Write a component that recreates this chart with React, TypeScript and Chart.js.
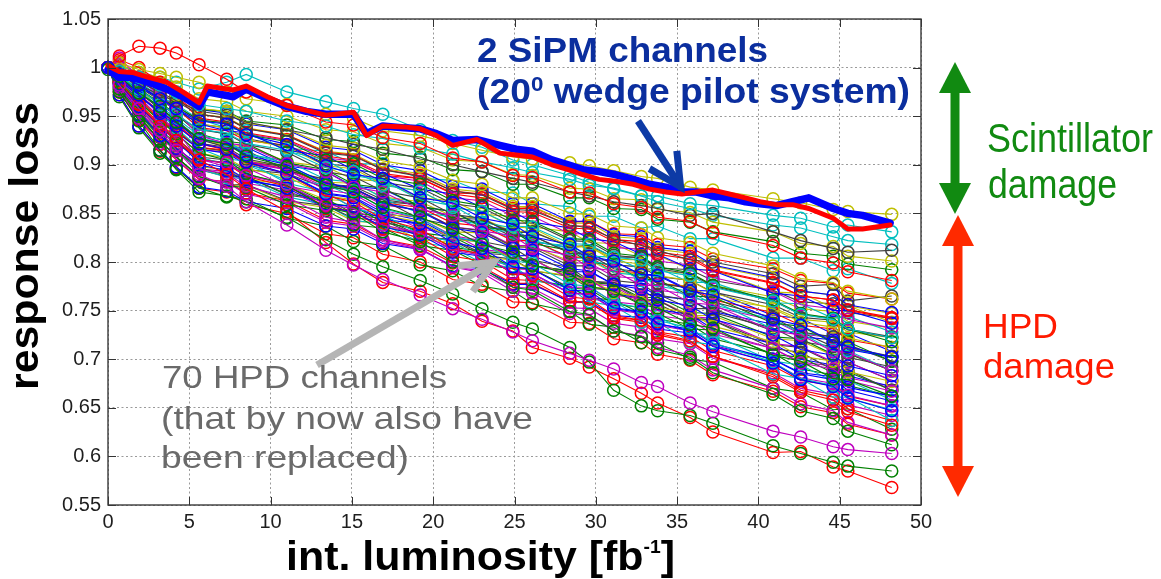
import React, { useEffect, useRef } from 'react';
import { Chart, registerables } from 'chart.js';

Chart.register(...registerables);

// Integrated luminosity [fb^-1] at which the HPD channels were measured
const LUMI = [0, 0.7, 1.9, 3.2, 4.2, 5.6, 7.3, 8.5, 11.0, 13.4, 15.1, 16.9, 19.2, 21.2, 23.0, 24.9, 26.1, 28.4, 29.6, 31.1, 32.8, 33.8, 35.8, 37.2, 40.9, 42.6, 44.6, 45.5, 48.2];

// Relative response of the 70 HPD channels
const HPD_01 = [1.0, 0.993, 0.982, 0.968, 0.958, 0.945, 0.942, 0.931, 0.921, 0.899, 0.890, 0.886, 0.866, 0.861, 0.845, 0.839, 0.826, 0.818, 0.806, 0.801, 0.787, 0.786, 0.770, 0.766, 0.741, 0.735, 0.718, 0.713, 0.702];
const HPD_02 = [0.998, 0.991, 0.974, 0.960, 0.944, 0.927, 0.921, 0.909, 0.898, 0.879, 0.872, 0.856, 0.846, 0.833, 0.818, 0.810, 0.797, 0.788, 0.775, 0.770, 0.756, 0.753, 0.736, 0.732, 0.704, 0.698, 0.680, 0.679, 0.662];
const HPD_03 = [1.0, 1.012, 1.022, 1.02, 1.015, 1.003, 0.988, 0.975, 0.961, 0.944, 0.941, 0.928, 0.922, 0.907, 0.903, 0.889, 0.887, 0.872, 0.871, 0.860, 0.856, 0.846, 0.842, 0.830, 0.817, 0.804, 0.799, 0.790, 0.781];
const HPD_04 = [1.0, 0.996, 0.99, 0.982, 0.975, 0.962, 0.958, 0.955, 0.945, 0.940, 0.931, 0.927, 0.917, 0.911, 0.903, 0.897, 0.892, 0.885, 0.879, 0.876, 0.868, 0.868, 0.860, 0.858, 0.848, 0.845, 0.836, 0.838, 0.831];
const HPD_05 = [1.0, 0.982, 0.958, 0.935, 0.915, 0.89, 0.878, 0.862, 0.838, 0.812, 0.797, 0.782, 0.766, 0.752, 0.741, 0.728, 0.719, 0.706, 0.699, 0.690, 0.676, 0.672, 0.655, 0.646, 0.626, 0.620, 0.610, 0.607, 0.603];
const HPD_06 = [1.0, 1.005, 0.998, 0.994, 0.99, 0.985, 0.975, 0.968, 0.962, 0.952, 0.948, 0.935, 0.930, 0.922, 0.915, 0.908, 0.906, 0.902, 0.899, 0.894, 0.888, 0.886, 0.877, 0.874, 0.865, 0.861, 0.854, 0.852, 0.849];
const HPD_07 = [1.0, 0.994, 0.985, 0.975, 0.966, 0.955, 0.951, 0.944, 0.936, 0.928, 0.921, 0.916, 0.906, 0.900, 0.893, 0.886, 0.882, 0.872, 0.868, 0.862, 0.858, 0.855, 0.848, 0.850, 0.831, 0.822, 0.814, 0.810, 0.812];
const HPD_08 = [1.0, 0.99, 0.972, 0.953, 0.94, 0.922, 0.916, 0.903, 0.891, 0.870, 0.866, 0.848, 0.839, 0.820, 0.814, 0.795, 0.793, 0.771, 0.770, 0.753, 0.749, 0.737, 0.729, 0.713, 0.696, 0.679, 0.672, 0.660, 0.647];
const HPD_09 = [1.0, 0.975, 0.945, 0.915, 0.895, 0.872, 0.868, 0.862, 0.846, 0.823, 0.808, 0.795, 0.781, 0.767, 0.752, 0.738, 0.731, 0.712, 0.697, 0.668, 0.652, 0.647, 0.642, 0.634, 0.611, 0.603, 0.594, 0.590, 0.585];
const HPD_10 = [1.0, 0.985, 0.962, 0.94, 0.925, 0.905, 0.89, 0.875, 0.852, 0.82, 0.798, 0.779, 0.77, 0.757, 0.739, 0.729, 0.712, 0.701, 0.692, 0.68, 0.665, 0.655, 0.64, 0.625, 0.604, 0.605, 0.589, 0.585, 0.568];
const HPD_11 = [1.0, 0.992, 0.978, 0.962, 0.952, 0.936, 0.933, 0.922, 0.915, 0.897, 0.893, 0.879, 0.873, 0.856, 0.852, 0.837, 0.836, 0.819, 0.818, 0.805, 0.802, 0.791, 0.786, 0.774, 0.760, 0.746, 0.741, 0.731, 0.722];
const HPD_12 = [1.0, 1.01, 0.99, 0.97, 0.955, 0.93, 0.922, 0.920, 0.901, 0.893, 0.877, 0.872, 0.854, 0.848, 0.832, 0.827, 0.814, 0.807, 0.794, 0.791, 0.776, 0.776, 0.758, 0.756, 0.729, 0.725, 0.708, 0.707, 0.688];
const HPD_13 = [1.0, 0.998, 0.99, 0.98, 0.972, 0.958, 0.955, 0.943, 0.937, 0.920, 0.917, 0.904, 0.898, 0.884, 0.880, 0.866, 0.866, 0.850, 0.849, 0.837, 0.835, 0.825, 0.820, 0.809, 0.796, 0.783, 0.779, 0.770, 0.762];
const HPD_14 = [1.0, 0.995, 0.982, 0.972, 0.965, 0.952, 0.948, 0.937, 0.93, 0.912, 0.909, 0.895, 0.888, 0.873, 0.869, 0.854, 0.853, 0.838, 0.835, 0.824, 0.817, 0.812, 0.802, 0.80, 0.788, 0.775, 0.777, 0.76, 0.765];
const HPD_15 = [1.0, 0.988, 0.97, 0.955, 0.943, 0.926, 0.922, 0.910, 0.900, 0.881, 0.876, 0.861, 0.852, 0.835, 0.830, 0.814, 0.812, 0.793, 0.791, 0.777, 0.772, 0.761, 0.755, 0.741, 0.725, 0.710, 0.704, 0.693, 0.683];
const HPD_16 = [1.0, 0.993, 0.982, 0.968, 0.96, 0.946, 0.943, 0.931, 0.924, 0.905, 0.901, 0.886, 0.880, 0.863, 0.858, 0.843, 0.842, 0.824, 0.823, 0.809, 0.806, 0.795, 0.789, 0.776, 0.761, 0.747, 0.742, 0.731, 0.718];
const HPD_17 = [1.0, 1.008, 1.0, 0.985, 0.97, 0.948, 0.944, 0.933, 0.926, 0.909, 0.905, 0.891, 0.886, 0.870, 0.866, 0.852, 0.851, 0.835, 0.834, 0.821, 0.818, 0.808, 0.803, 0.791, 0.778, 0.765, 0.761, 0.750, 0.742];
const HPD_18 = [1.0, 0.992, 0.975, 0.96, 0.948, 0.93, 0.925, 0.912, 0.901, 0.879, 0.873, 0.855, 0.845, 0.826, 0.820, 0.801, 0.799, 0.777, 0.775, 0.758, 0.753, 0.740, 0.732, 0.717, 0.697, 0.680, 0.673, 0.660, 0.648];
const HPD_19 = [1.0, 1.005, 0.975, 0.95, 0.935, 0.905, 0.902, 0.889, 0.880, 0.859, 0.855, 0.838, 0.830, 0.812, 0.807, 0.789, 0.788, 0.768, 0.767, 0.751, 0.747, 0.735, 0.729, 0.714, 0.696, 0.681, 0.675, 0.663, 0.652];
const HPD_20 = [1.0, 1.003, 0.995, 0.99, 0.98, 0.968, 0.965, 0.955, 0.950, 0.936, 0.934, 0.922, 0.918, 0.905, 0.903, 0.890, 0.889, 0.876, 0.875, 0.865, 0.864, 0.854, 0.851, 0.841, 0.831, 0.819, 0.816, 0.806, 0.801];
const HPD_21 = [1.0, 0.99, 0.978, 0.962, 0.951, 0.936, 0.932, 0.921, 0.913, 0.893, 0.888, 0.873, 0.866, 0.849, 0.845, 0.828, 0.827, 0.809, 0.808, 0.793, 0.790, 0.778, 0.773, 0.759, 0.743, 0.728, 0.723, 0.712, 0.703];
const HPD_22 = [1.0, 0.995, 0.98, 0.968, 0.958, 0.942, 0.935, 0.933, 0.915, 0.909, 0.895, 0.891, 0.875, 0.870, 0.856, 0.852, 0.841, 0.835, 0.824, 0.821, 0.808, 0.808, 0.793, 0.791, 0.768, 0.765, 0.750, 0.750, 0.737];
const HPD_23 = [1.0, 0.985, 0.965, 0.945, 0.932, 0.912, 0.905, 0.891, 0.879, 0.856, 0.850, 0.831, 0.821, 0.800, 0.794, 0.774, 0.771, 0.749, 0.746, 0.729, 0.723, 0.710, 0.702, 0.686, 0.664, 0.647, 0.639, 0.626, 0.612];
const HPD_24 = [1.0, 0.99, 0.972, 0.955, 0.942, 0.922, 0.915, 0.902, 0.891, 0.868, 0.862, 0.844, 0.834, 0.814, 0.808, 0.788, 0.786, 0.764, 0.762, 0.745, 0.740, 0.727, 0.719, 0.703, 0.682, 0.666, 0.658, 0.646, 0.632];
const HPD_25 = [1.0, 0.996, 0.985, 0.97, 0.962, 0.947, 0.938, 0.935, 0.914, 0.905, 0.889, 0.884, 0.864, 0.858, 0.841, 0.835, 0.822, 0.814, 0.801, 0.797, 0.781, 0.781, 0.763, 0.760, 0.731, 0.727, 0.709, 0.709, 0.688];
const HPD_26 = [1.0, 0.988, 0.97, 0.955, 0.943, 0.921, 0.917, 0.904, 0.895, 0.874, 0.870, 0.853, 0.845, 0.827, 0.822, 0.804, 0.803, 0.783, 0.782, 0.766, 0.762, 0.750, 0.744, 0.729, 0.711, 0.696, 0.690, 0.678, 0.667];
const HPD_27 = [1.0, 1.0, 0.99, 0.975, 0.962, 0.942, 0.938, 0.926, 0.918, 0.899, 0.896, 0.880, 0.873, 0.856, 0.852, 0.836, 0.835, 0.816, 0.816, 0.801, 0.798, 0.786, 0.781, 0.768, 0.752, 0.738, 0.733, 0.722, 0.712];
const HPD_28 = [1.0, 0.99, 0.974, 0.958, 0.946, 0.922, 0.918, 0.906, 0.898, 0.879, 0.876, 0.860, 0.853, 0.836, 0.832, 0.816, 0.815, 0.796, 0.796, 0.781, 0.778, 0.766, 0.761, 0.748, 0.732, 0.718, 0.713, 0.702, 0.692];
const HPD_29 = [1.0, 0.984, 0.96, 0.94, 0.925, 0.902, 0.897, 0.885, 0.876, 0.856, 0.852, 0.836, 0.828, 0.810, 0.806, 0.789, 0.788, 0.768, 0.767, 0.752, 0.748, 0.736, 0.731, 0.716, 0.700, 0.685, 0.679, 0.668, 0.657];
const HPD_30 = [1.0, 0.997, 0.99, 0.98, 0.972, 0.957, 0.955, 0.945, 0.941, 0.926, 0.924, 0.912, 0.908, 0.895, 0.893, 0.880, 0.880, 0.866, 0.866, 0.855, 0.854, 0.844, 0.841, 0.831, 0.821, 0.809, 0.806, 0.798, 0.792];
const HPD_31 = [1.0, 0.996, 0.988, 0.978, 0.97, 0.952, 0.948, 0.937, 0.931, 0.913, 0.910, 0.895, 0.889, 0.873, 0.870, 0.855, 0.855, 0.837, 0.837, 0.823, 0.821, 0.810, 0.806, 0.792, 0.779, 0.765, 0.761, 0.751, 0.743];
const HPD_32 = [1.0, 0.99, 0.972, 0.952, 0.938, 0.917, 0.906, 0.904, 0.881, 0.872, 0.855, 0.849, 0.828, 0.821, 0.803, 0.796, 0.782, 0.773, 0.759, 0.755, 0.738, 0.738, 0.718, 0.715, 0.685, 0.680, 0.661, 0.661, 0.637];
const HPD_33 = [1.0, 0.995, 0.983, 0.97, 0.96, 0.946, 0.943, 0.932, 0.925, 0.907, 0.904, 0.889, 0.883, 0.866, 0.863, 0.847, 0.847, 0.829, 0.829, 0.815, 0.813, 0.801, 0.797, 0.784, 0.770, 0.756, 0.752, 0.741, 0.732];
const HPD_34 = [1.0, 0.986, 0.965, 0.945, 0.932, 0.912, 0.907, 0.896, 0.888, 0.868, 0.864, 0.848, 0.841, 0.824, 0.820, 0.803, 0.803, 0.784, 0.783, 0.768, 0.765, 0.753, 0.748, 0.734, 0.718, 0.703, 0.698, 0.687, 0.677];
const HPD_35 = [1.0, 0.992, 0.975, 0.958, 0.946, 0.926, 0.918, 0.915, 0.894, 0.885, 0.869, 0.864, 0.844, 0.838, 0.821, 0.815, 0.802, 0.794, 0.781, 0.777, 0.761, 0.761, 0.743, 0.740, 0.711, 0.707, 0.689, 0.689, 0.668];
const HPD_36 = [1.0, 0.998, 0.99, 0.98, 0.972, 0.957, 0.953, 0.942, 0.936, 0.918, 0.915, 0.900, 0.894, 0.878, 0.875, 0.860, 0.860, 0.842, 0.842, 0.828, 0.826, 0.815, 0.811, 0.797, 0.784, 0.770, 0.766, 0.756, 0.748];
const HPD_37 = [1.0, 0.99, 0.978, 0.964, 0.952, 0.932, 0.924, 0.922, 0.902, 0.895, 0.880, 0.876, 0.857, 0.852, 0.836, 0.832, 0.819, 0.812, 0.800, 0.797, 0.782, 0.782, 0.765, 0.764, 0.737, 0.734, 0.717, 0.718, 0.698];
const HPD_38 = [1.0, 0.985, 0.963, 0.942, 0.928, 0.906, 0.901, 0.888, 0.878, 0.857, 0.852, 0.834, 0.825, 0.806, 0.801, 0.782, 0.781, 0.760, 0.758, 0.742, 0.738, 0.725, 0.718, 0.703, 0.684, 0.668, 0.661, 0.649, 0.637];
const HPD_39 = [1.0, 1.002, 0.995, 0.99, 0.985, 0.978, 0.985, 0.993, 0.975, 0.965, 0.958, 0.952, 0.936, 0.925, 0.918, 0.905, 0.900, 0.889, 0.882, 0.875, 0.868, 0.862, 0.855, 0.848, 0.838, 0.835, 0.826, 0.822, 0.818];
const HPD_40 = [1.0, 0.98, 0.955, 0.935, 0.92, 0.895, 0.891, 0.878, 0.867, 0.846, 0.841, 0.823, 0.814, 0.795, 0.789, 0.770, 0.768, 0.747, 0.745, 0.729, 0.724, 0.712, 0.704, 0.689, 0.670, 0.654, 0.647, 0.635, 0.622];
const HPD_41 = [1.0, 1.003, 0.995, 0.985, 0.975, 0.952, 0.949, 0.938, 0.931, 0.914, 0.911, 0.896, 0.891, 0.875, 0.872, 0.857, 0.857, 0.840, 0.840, 0.826, 0.824, 0.813, 0.809, 0.796, 0.783, 0.770, 0.766, 0.755, 0.747];
const HPD_42 = [1.0, 0.994, 0.98, 0.966, 0.957, 0.942, 0.938, 0.927, 0.919, 0.901, 0.898, 0.882, 0.876, 0.860, 0.856, 0.840, 0.840, 0.822, 0.821, 0.807, 0.804, 0.793, 0.788, 0.775, 0.760, 0.746, 0.742, 0.731, 0.723];
const HPD_43 = [1.0, 0.982, 0.955, 0.93, 0.917, 0.90, 0.894, 0.883, 0.878, 0.860, 0.857, 0.844, 0.839, 0.824, 0.821, 0.806, 0.807, 0.790, 0.790, 0.777, 0.775, 0.765, 0.761, 0.749, 0.736, 0.723, 0.720, 0.710, 0.702];
const HPD_44 = [1.0, 0.978, 0.95, 0.925, 0.908, 0.888, 0.878, 0.877, 0.859, 0.853, 0.838, 0.835, 0.817, 0.812, 0.797, 0.793, 0.781, 0.775, 0.763, 0.761, 0.747, 0.747, 0.731, 0.730, 0.705, 0.702, 0.686, 0.687, 0.668];
const HPD_45 = [1.0, 0.99, 0.968, 0.946, 0.935, 0.918, 0.915, 0.903, 0.896, 0.879, 0.876, 0.861, 0.856, 0.840, 0.837, 0.822, 0.822, 0.805, 0.805, 0.791, 0.789, 0.778, 0.774, 0.761, 0.748, 0.735, 0.731, 0.720, 0.712];
const HPD_46 = [1.0, 0.985, 0.962, 0.94, 0.926, 0.908, 0.900, 0.900, 0.884, 0.880, 0.867, 0.865, 0.850, 0.847, 0.834, 0.831, 0.820, 0.817, 0.806, 0.805, 0.792, 0.794, 0.779, 0.779, 0.758, 0.757, 0.742, 0.744, 0.728];
const HPD_47 = [1.0, 0.976, 0.948, 0.922, 0.906, 0.886, 0.882, 0.870, 0.861, 0.841, 0.837, 0.821, 0.813, 0.795, 0.791, 0.774, 0.773, 0.753, 0.752, 0.737, 0.733, 0.721, 0.716, 0.701, 0.686, 0.670, 0.664, 0.653, 0.642];
const HPD_48 = [1.0, 0.995, 0.978, 0.958, 0.945, 0.927, 0.919, 0.920, 0.903, 0.898, 0.885, 0.883, 0.866, 0.863, 0.849, 0.847, 0.836, 0.831, 0.820, 0.819, 0.806, 0.807, 0.792, 0.792, 0.769, 0.768, 0.753, 0.755, 0.738];
const HPD_49 = [1.0, 0.986, 0.965, 0.945, 0.934, 0.918, 0.914, 0.903, 0.898, 0.880, 0.878, 0.864, 0.859, 0.844, 0.841, 0.826, 0.827, 0.810, 0.810, 0.797, 0.795, 0.785, 0.781, 0.769, 0.756, 0.743, 0.740, 0.730, 0.722];
const HPD_50 = [1.0, 0.972, 0.94, 0.915, 0.898, 0.877, 0.873, 0.862, 0.855, 0.837, 0.834, 0.819, 0.813, 0.796, 0.793, 0.777, 0.777, 0.759, 0.759, 0.745, 0.743, 0.731, 0.727, 0.714, 0.700, 0.686, 0.682, 0.671, 0.662];
const HPD_51 = [1.0, 0.98, 0.952, 0.93, 0.915, 0.897, 0.889, 0.888, 0.870, 0.865, 0.850, 0.847, 0.830, 0.826, 0.811, 0.808, 0.796, 0.791, 0.779, 0.777, 0.763, 0.764, 0.748, 0.747, 0.723, 0.721, 0.705, 0.706, 0.688];
const HPD_52 = [1.0, 0.975, 0.946, 0.921, 0.905, 0.885, 0.883, 0.871, 0.863, 0.843, 0.839, 0.823, 0.816, 0.799, 0.795, 0.778, 0.778, 0.759, 0.758, 0.743, 0.740, 0.728, 0.723, 0.709, 0.693, 0.678, 0.673, 0.662, 0.652];
const HPD_53 = [1.0, 0.99, 0.972, 0.955, 0.945, 0.927, 0.923, 0.911, 0.904, 0.885, 0.882, 0.866, 0.860, 0.843, 0.839, 0.823, 0.822, 0.804, 0.804, 0.789, 0.786, 0.775, 0.770, 0.756, 0.741, 0.727, 0.723, 0.711, 0.702];
const HPD_54 = [1.0, 0.985, 0.96, 0.938, 0.925, 0.906, 0.898, 0.897, 0.878, 0.871, 0.856, 0.852, 0.834, 0.829, 0.813, 0.809, 0.796, 0.790, 0.778, 0.775, 0.760, 0.761, 0.744, 0.742, 0.716, 0.713, 0.697, 0.697, 0.678];
const HPD_55 = [1.0, 0.98, 0.955, 0.932, 0.918, 0.898, 0.895, 0.885, 0.880, 0.864, 0.863, 0.849, 0.846, 0.831, 0.830, 0.815, 0.816, 0.801, 0.802, 0.789, 0.788, 0.778, 0.775, 0.763, 0.753, 0.741, 0.738, 0.728, 0.722];
const HPD_56 = [1.0, 0.976, 0.948, 0.925, 0.908, 0.888, 0.879, 0.880, 0.863, 0.858, 0.845, 0.843, 0.826, 0.823, 0.809, 0.807, 0.796, 0.791, 0.780, 0.779, 0.766, 0.767, 0.752, 0.752, 0.729, 0.728, 0.713, 0.715, 0.698];
const HPD_57 = [1.0, 0.988, 0.966, 0.945, 0.934, 0.916, 0.912, 0.900, 0.891, 0.871, 0.867, 0.851, 0.843, 0.825, 0.821, 0.804, 0.803, 0.783, 0.782, 0.767, 0.763, 0.751, 0.746, 0.731, 0.716, 0.700, 0.694, 0.683, 0.672];
const HPD_58 = [1.0, 0.97, 0.938, 0.912, 0.896, 0.876, 0.867, 0.865, 0.845, 0.837, 0.821, 0.817, 0.797, 0.791, 0.775, 0.770, 0.757, 0.749, 0.736, 0.733, 0.717, 0.717, 0.700, 0.697, 0.670, 0.666, 0.648, 0.649, 0.628];
const HPD_59 = [1.0, 1.006, 0.99, 0.972, 0.958, 0.938, 0.935, 0.925, 0.920, 0.904, 0.903, 0.889, 0.886, 0.871, 0.870, 0.855, 0.856, 0.841, 0.842, 0.829, 0.828, 0.818, 0.815, 0.803, 0.793, 0.781, 0.778, 0.768, 0.762];
const HPD_60 = [1.0, 0.98, 0.952, 0.93, 0.915, 0.896, 0.887, 0.886, 0.867, 0.859, 0.843, 0.839, 0.820, 0.815, 0.799, 0.794, 0.782, 0.775, 0.762, 0.759, 0.744, 0.744, 0.727, 0.725, 0.698, 0.694, 0.677, 0.678, 0.658];
const HPD_61 = [1.0, 0.995, 0.97, 0.948, 0.935, 0.916, 0.913, 0.902, 0.895, 0.877, 0.874, 0.859, 0.853, 0.836, 0.833, 0.817, 0.817, 0.799, 0.799, 0.785, 0.783, 0.771, 0.767, 0.754, 0.740, 0.726, 0.722, 0.711, 0.702];
const HPD_62 = [1.0, 0.978, 0.95, 0.925, 0.908, 0.888, 0.879, 0.879, 0.862, 0.856, 0.842, 0.840, 0.823, 0.820, 0.805, 0.802, 0.791, 0.786, 0.774, 0.773, 0.759, 0.761, 0.745, 0.745, 0.721, 0.719, 0.704, 0.706, 0.688];
const HPD_63 = [1.0, 0.984, 0.96, 0.94, 0.927, 0.908, 0.905, 0.895, 0.891, 0.876, 0.875, 0.862, 0.859, 0.845, 0.844, 0.830, 0.831, 0.816, 0.817, 0.805, 0.805, 0.794, 0.792, 0.781, 0.771, 0.759, 0.757, 0.748, 0.742];
const HPD_64 = [1.0, 0.992, 0.975, 0.957, 0.946, 0.927, 0.918, 0.918, 0.899, 0.893, 0.878, 0.875, 0.857, 0.852, 0.837, 0.833, 0.821, 0.815, 0.803, 0.801, 0.787, 0.787, 0.771, 0.770, 0.745, 0.742, 0.726, 0.727, 0.708];
const HPD_65 = [1.0, 0.984, 0.958, 0.936, 0.922, 0.906, 0.902, 0.890, 0.881, 0.861, 0.857, 0.841, 0.833, 0.815, 0.811, 0.794, 0.793, 0.773, 0.772, 0.757, 0.753, 0.741, 0.736, 0.721, 0.706, 0.690, 0.684, 0.673, 0.662];
const HPD_66 = [1.0, 0.972, 0.94, 0.914, 0.897, 0.876, 0.872, 0.859, 0.850, 0.829, 0.825, 0.808, 0.800, 0.782, 0.777, 0.759, 0.758, 0.738, 0.737, 0.721, 0.717, 0.705, 0.699, 0.684, 0.667, 0.651, 0.645, 0.633, 0.622];
const HPD_67 = [1.0, 0.997, 0.985, 0.97, 0.958, 0.938, 0.931, 0.932, 0.917, 0.914, 0.901, 0.901, 0.886, 0.884, 0.872, 0.871, 0.860, 0.857, 0.847, 0.847, 0.835, 0.837, 0.824, 0.824, 0.804, 0.804, 0.791, 0.793, 0.778];
const HPD_68 = [1.0, 0.982, 0.955, 0.93, 0.916, 0.896, 0.893, 0.881, 0.874, 0.855, 0.852, 0.836, 0.830, 0.813, 0.809, 0.793, 0.792, 0.774, 0.774, 0.759, 0.756, 0.745, 0.740, 0.726, 0.711, 0.697, 0.693, 0.681, 0.672];
const HPD_69 = [1.0, 0.99, 0.968, 0.948, 0.936, 0.917, 0.914, 0.904, 0.899, 0.882, 0.881, 0.867, 0.862, 0.847, 0.845, 0.831, 0.832, 0.815, 0.816, 0.803, 0.802, 0.791, 0.788, 0.776, 0.764, 0.752, 0.749, 0.739, 0.732];
const HPD_70 = [1.0, 0.978, 0.952, 0.928, 0.914, 0.895, 0.888, 0.888, 0.869, 0.863, 0.848, 0.845, 0.827, 0.822, 0.807, 0.803, 0.791, 0.785, 0.773, 0.771, 0.757, 0.757, 0.741, 0.740, 0.715, 0.712, 0.696, 0.697, 0.678];

const HPD_SERIES = [
  HPD_01, HPD_02, HPD_03, HPD_04, HPD_05, HPD_06, HPD_07, HPD_08, HPD_09, HPD_10,
  HPD_11, HPD_12, HPD_13, HPD_14, HPD_15, HPD_16, HPD_17, HPD_18, HPD_19, HPD_20,
  HPD_21, HPD_22, HPD_23, HPD_24, HPD_25, HPD_26, HPD_27, HPD_28, HPD_29, HPD_30,
  HPD_31, HPD_32, HPD_33, HPD_34, HPD_35, HPD_36, HPD_37, HPD_38, HPD_39, HPD_40,
  HPD_41, HPD_42, HPD_43, HPD_44, HPD_45, HPD_46, HPD_47, HPD_48, HPD_49, HPD_50,
  HPD_51, HPD_52, HPD_53, HPD_54, HPD_55, HPD_56, HPD_57, HPD_58, HPD_59, HPD_60,
  HPD_61, HPD_62, HPD_63, HPD_64, HPD_65, HPD_66, HPD_67, HPD_68, HPD_69, HPD_70,
];

// The two SiPM channels of the 20 degree wedge pilot system
const SIPM_LUMI = [0, 0.7, 1.5, 2.5, 3.6, 4.6, 5.6, 6.1, 7.7, 8.5, 9.8, 11.0, 12.2, 13.4, 15.1, 15.9, 16.9, 18.2, 19.2, 20.2, 21.2, 22.7, 24.1, 25.1, 26.1, 27.3, 28.3, 29.2, 30.2, 31.2, 32.3, 33.3, 34.3, 35.3, 36.2, 37.2, 38.2, 39.2, 40.1, 41.1, 42.1, 43.1, 44.6, 45.5, 46.4, 48.1];
const SIPM_RED = [1.002, 0.996, 0.995, 0.99, 0.985, 0.975, 0.964, 0.981, 0.977, 0.981, 0.97, 0.961, 0.956, 0.951, 0.954, 0.93, 0.94, 0.939, 0.937, 0.93, 0.92, 0.926, 0.912, 0.91, 0.908, 0.90, 0.895, 0.89, 0.885, 0.883, 0.88, 0.875, 0.872, 0.87, 0.872, 0.874, 0.87, 0.866, 0.862, 0.859, 0.859, 0.855, 0.845, 0.834, 0.834, 0.838];
const SIPM_BLUE = [0.998, 0.99, 0.99, 0.985, 0.978, 0.97, 0.96, 0.975, 0.97, 0.978, 0.968, 0.96, 0.955, 0.952, 0.952, 0.932, 0.94, 0.938, 0.937, 0.932, 0.925, 0.926, 0.92, 0.916, 0.914, 0.905, 0.90, 0.895, 0.893, 0.89, 0.885, 0.88, 0.877, 0.872, 0.872, 0.868, 0.866, 0.862, 0.86, 0.858, 0.862, 0.866, 0.855, 0.85, 0.848, 0.84];

const X_TICKS = [0, 5, 10, 15, 20, 25, 30, 35, 40, 45, 50];
const Y_TICKS = [0.55, 0.6, 0.65, 0.7, 0.75, 0.8, 0.85, 0.9, 0.95, 1, 1.05];

// Classic line colour order: b, g, r, c, m, y, k
const LINE_COLORS = ['#0000ff', '#008000', '#ff0000', '#00bfbf', '#bf00bf', '#bfbf00', '#404040'];

const FONT = '"Liberation Sans", Arial, Helvetica, sans-serif';

type Run = { text: string; size: number; rise?: number };

// Draws text runs starting at (x, baseline), stretched horizontally to a given width.
function drawRuns(
  ctx: CanvasRenderingContext2D,
  runs: Run[],
  x: number,
  y: number,
  weight: string,
  color: string,
  width?: number,
  rotate = false,
) {
  let natural = 0;
  for (const r of runs) {
    ctx.font = `${weight} ${r.size}px ${FONT}`;
    natural += ctx.measureText(r.text).width;
  }
  const sx = width ? width / natural : 1;
  ctx.save();
  ctx.translate(x, y);
  if (rotate) ctx.rotate(-Math.PI / 2);
  ctx.scale(sx, 1);
  ctx.fillStyle = color;
  ctx.textBaseline = 'alphabetic';
  ctx.textAlign = 'left';
  let cx = 0;
  for (const r of runs) {
    ctx.font = `${weight} ${r.size}px ${FONT}`;
    ctx.fillText(r.text, cx, -(r.rise || 0));
    cx += ctx.measureText(r.text).width;
  }
  ctx.restore();
}

function vArrow(
  ctx: CanvasRenderingContext2D,
  x0: number, y0: number, x1: number, y1: number,
  color: string, width: number, headLen: number, headAngle: number,
) {
  const a = Math.atan2(y1 - y0, x1 - x0);
  const back = a + Math.PI;
  ctx.save();
  ctx.strokeStyle = color;
  ctx.lineWidth = width;
  ctx.lineCap = 'butt';
  ctx.beginPath();
  ctx.moveTo(x0, y0);
  ctx.lineTo(x1 - Math.cos(a) * width * 0.6, y1 - Math.sin(a) * width * 0.6);
  ctx.stroke();
  ctx.lineJoin = 'miter';
  ctx.miterLimit = 3;
  const inset = width * 0.9;
  const tx = x1 - Math.cos(a) * inset;
  const ty = y1 - Math.sin(a) * inset;
  ctx.beginPath();
  ctx.moveTo(tx + Math.cos(back - headAngle) * headLen, ty + Math.sin(back - headAngle) * headLen);
  ctx.lineTo(tx, ty);
  ctx.lineTo(tx + Math.cos(back + headAngle) * headLen, ty + Math.sin(back + headAngle) * headLen);
  ctx.stroke();
  ctx.restore();
}

function doubleArrow(
  ctx: CanvasRenderingContext2D,
  x: number, top: number, bottom: number,
  color: string, shaft: number, headLen: number, headHalf: number,
) {
  ctx.save();
  ctx.fillStyle = color;
  ctx.fillRect(x - shaft / 2, top + headLen - 1, shaft, bottom - top - 2 * headLen + 2);
  ctx.beginPath();
  ctx.moveTo(x, top);
  ctx.lineTo(x + headHalf, top + headLen);
  ctx.lineTo(x - headHalf, top + headLen);
  ctx.closePath();
  ctx.fill();
  ctx.beginPath();
  ctx.moveTo(x, bottom);
  ctx.lineTo(x + headHalf, bottom - headLen);
  ctx.lineTo(x - headHalf, bottom - headLen);
  ctx.closePath();
  ctx.fill();
  ctx.restore();
}

// Box around the plot area with short inward tick marks on all four sides
const framePlugin = {
  id: 'frame',
  afterDatasetsDraw(chart: any) {
    const { ctx, chartArea: a, scales } = chart;
    const xs = scales.x;
    const ys = scales.y;
    const len = 8;
    ctx.save();
    ctx.strokeStyle = '#333333';
    ctx.lineWidth = 1;
    ctx.beginPath();
    for (const v of X_TICKS) {
      const px = Math.round(xs.getPixelForValue(v)) + 0.5;
      ctx.moveTo(px, a.bottom);
      ctx.lineTo(px, a.bottom - len);
      ctx.moveTo(px, a.top);
      ctx.lineTo(px, a.top + len);
    }
    for (const v of Y_TICKS) {
      const py = Math.round(ys.getPixelForValue(v)) + 0.5;
      ctx.moveTo(a.left, py);
      ctx.lineTo(a.left + len, py);
      ctx.moveTo(a.right, py);
      ctx.lineTo(a.right - len, py);
    }
    ctx.stroke();
    ctx.lineWidth = 1.4;
    ctx.strokeStyle = '#3a3a3a';
    ctx.strokeRect(a.left, a.top, a.right - a.left, a.bottom - a.top);
    ctx.restore();
  },
};

// Axis titles, arrows and explanatory labels
const notesPlugin = {
  id: 'notes',
  afterDraw(chart: any) {
    const { ctx } = chart;

    // axis titles
    drawRuns(ctx, [{ text: 'int. luminosity [fb', size: 40 }, { text: '-1', size: 18, rise: 17 }, { text: ']', size: 40 }],
      286, 570, 'bold', '#000000', 389);
    drawRuns(ctx, [{ text: 'response loss', size: 41 }], 38, 390, 'bold', '#000000', 288, true);

    // SiPM label and arrow
    drawRuns(ctx, [{ text: '2 SiPM channels', size: 35 }], 477, 62, 'bold', '#0b2e9e', 291);
    drawRuns(ctx, [{ text: '(20', size: 35 }, { text: '0', size: 21, rise: 12 }, { text: ' wedge pilot system)', size: 35 }],
      477, 103, 'bold', '#0b2e9e', 433);
    vArrow(ctx, 638, 121, 684, 192, '#0d3aa6', 7, 36, 0.47);

    // HPD label and arrow
    vArrow(ctx, 317, 365, 499, 259, '#b5b5b5', 7, 36, 0.43);
    drawRuns(ctx, [{ text: '70 HPD channels', size: 32 }], 162, 388, 'normal', '#6a6a6a', 285);
    drawRuns(ctx, [{ text: '(that by now also have', size: 32 }], 161, 429, 'normal', '#6a6a6a', 372);
    drawRuns(ctx, [{ text: 'been replaced)', size: 32 }], 161, 468, 'normal', '#6a6a6a', 248);

    // damage ranges on the right
    doubleArrow(ctx, 955, 62, 214, '#118a11', 9, 31, 16);
    doubleArrow(ctx, 958, 215, 497, '#ff2a00', 9, 31, 16);
    drawRuns(ctx, [{ text: 'Scintillator', size: 40 }], 987, 152, 'normal', '#118a11', 166);
    drawRuns(ctx, [{ text: 'damage', size: 40 }], 988, 198, 'normal', '#118a11', 129);
    drawRuns(ctx, [{ text: 'HPD', size: 35 }], 983, 338, 'normal', '#ff1a00', 75);
    drawRuns(ctx, [{ text: 'damage', size: 35 }], 983, 378, 'normal', '#ff1a00', 132);
  },
};

function buildDatasets() {
  const sipm = [
    { label: 'SiPM 1', xs: SIPM_LUMI, ys: SIPM_RED, color: '#ff0000', width: 5 },
    { label: 'SiPM 2', xs: SIPM_LUMI, ys: SIPM_BLUE, color: '#0000ff', width: 7.5 },
  ].map((s) => ({
    label: s.label,
    data: s.xs.map((x, i) => ({ x, y: s.ys[i] })),
    showLine: true,
    borderColor: s.color,
    borderWidth: s.width,
    pointRadius: 0,
    tension: 0,
    borderJoinStyle: 'round' as const,
    borderCapStyle: 'round' as const,
    clip: false as const,
  }));
  const hpd = HPD_SERIES.map((ys, k) => {
    const color = LINE_COLORS[k % LINE_COLORS.length];
    return {
      label: `HPD ${k + 1}`,
      data: LUMI.map((x, i) => ({ x, y: ys[i] })),
      showLine: true,
      borderColor: color,
      borderWidth: 1.1,
      pointRadius: 6,
      pointBorderWidth: 1.5,
      pointBorderColor: color,
      pointBackgroundColor: 'rgba(0,0,0,0)',
      tension: 0,
      clip: false as const,
    };
  });
  return [...sipm, ...hpd];
}

export default function App() {
  const canvasRef = useRef<HTMLCanvasElement | null>(null);

  useEffect(() => {
    const canvas = canvasRef.current;
    if (!canvas) return;
    const tickFont = { family: FONT, size: 20 };
    const chart = new Chart(canvas, {
      type: 'scatter',
      data: { datasets: buildDatasets() as any },
      options: {
        animation: false,
        responsive: false,
        maintainAspectRatio: false,
        events: [],
        layout: { padding: { left: 0, right: 240, top: 16, bottom: 0 } },
        plugins: {
          legend: { display: false },
          tooltip: { enabled: false },
          title: { display: false },
        },
        scales: {
          x: {
            type: 'linear',
            min: 0,
            max: 50,
            afterBuildTicks: (s: any) => { s.ticks = X_TICKS.map((value) => ({ value })); },
            afterFit: (s: any) => { s.height = 74; },
            ticks: { font: tickFont, color: '#1e1e1e', padding: 5, maxRotation: 0, autoSkip: false },
            grid: { color: '#9a9a9a', lineWidth: 1, drawTicks: false },
            border: { display: false, dash: [2, 2.5] },
          },
          y: {
            type: 'linear',
            min: 0.55,
            max: 1.05,
            afterBuildTicks: (s: any) => { s.ticks = Y_TICKS.map((value) => ({ value })); },
            afterFit: (s: any) => { s.width = 108; },
            ticks: {
              font: tickFont,
              color: '#1e1e1e',
              padding: 7,
              autoSkip: false,
              callback: (v: any) => String(Math.round(Number(v) * 100) / 100),
            },
            grid: { color: '#9a9a9a', lineWidth: 1, drawTicks: false },
            border: { display: false, dash: [2, 2.5] },
          },
        },
      },
      plugins: [framePlugin, notesPlugin],
    });
    return () => chart.destroy();
  }, []);

  return (
    <div style={{ position: 'absolute', left: 0, top: 0, width: 1161, height: 579, background: '#ffffff' }}>
      <canvas ref={canvasRef} width={1161} height={579} style={{ display: 'block' }} />
    </div>
  );
}
